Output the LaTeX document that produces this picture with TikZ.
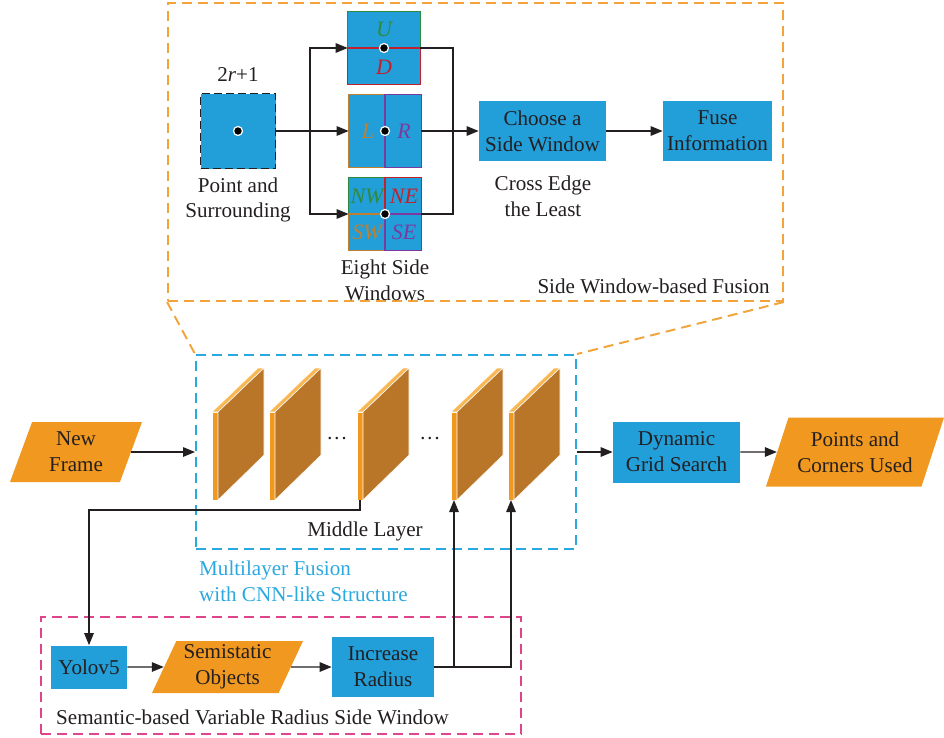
\documentclass[tikz,border=0pt]{standalone}
\usepackage{fontspec}
\setmainfont{Liberation Serif}
\usepackage{xcolor}
\usepackage{tikz}
\usetikzlibrary{positioning,arrows.meta,shapes.geometric}
\definecolor{ink}{HTML}{231F20}
\definecolor{swblue}{HTML}{229ED9}
\definecolor{sworange}{HTML}{F0981F}
\definecolor{slabface}{HTML}{B97629}
\definecolor{slabtop}{HTML}{F8B752}
\definecolor{framor}{HTML}{F2A43A}
\definecolor{frambl}{HTML}{2BA8E0}
\definecolor{frampk}{HTML}{E0448A}
\definecolor{wgreen}{HTML}{2E8A3E}
\definecolor{wred}{HTML}{C3202E}
\definecolor{wbrown}{HTML}{C0802F}
\definecolor{wpurple}{HTML}{7D3A9E}

\begin{document}
\begin{tikzpicture}[x=0.2mm,y=-0.2mm,
  font=\fontsize{12}{14.7}\selectfont,
  blk/.style={fill=swblue,align=center,inner sep=1pt,text=ink},
  para/.style={trapezium,trapezium left angle=63,trapezium right angle=117,
    trapezium stretches body,fill=sworange,align=center,inner sep=1pt,text=ink},
  win/.style={fill=swblue,minimum size=14.4mm,inner sep=0pt},
  dot/.style={circle,fill=black,draw=white,line width=0.7pt,minimum size=1.8mm,inner sep=0pt},
  lbl/.style={align=center,text=ink},
  wl/.style={font=\fontsize{12.5}{14}\selectfont\itshape},
  link/.style={draw=ink,line width=0.8pt},
  arr/.style={link,-{Triangle[length=2.4mm,width=1.9mm]}},
  frame/.style={dash pattern=on 2mm off 1.2mm,line width=1.1pt,inner sep=0pt}]
  \useasboundingbox (0,0) rectangle (944,737);
  % the three frames
  \node[frame,draw=framor,minimum width=123mm,minimum height=59.6mm] (swf) at (475.5,152) {};
  \node[frame,draw=frambl,minimum width=76mm,minimum height=38.8mm] (mid) at (386,452) {};
  \node[frame,draw=frampk,minimum width=96mm,minimum height=23.4mm] (sem) at (281,675.5) {};
  \draw[frame,draw=framor] (swf.south west) -- (mid.north west);
  \draw[frame,draw=framor] (swf.south east) -- (mid.north east);
  \node[lbl,anchor=base east] at (776,293) {Side Window-based Fusion};
  \node[lbl,text=frambl,align=left,anchor=west] at (193,581) {Multilayer Fusion\\with CNN-like Structure};
  \node[lbl,anchor=base west] at (50,724) {Semantic-based Variable Radius Side Window};
  % side window fusion
  \node[fill=swblue,draw=ink,dash pattern=on 1.6mm off 0.8mm,line width=0.8pt,
    minimum size=15mm,inner sep=0pt] (sq) at (238,131) {};
  \node[dot] at (sq.center) {};
  \node[lbl] at (238,75) {2\textit{r}+1};
  \node[lbl] at (238,200) {Point and\\Surrounding};
  \node[win] (w1) at (384,48) {};
  \draw[wgreen,line width=0.8pt] (w1.north west) rectangle (w1.east);
  \draw[wred,line width=0.8pt] (w1.west) rectangle (w1.south east);
  \node[dot] at (w1.center) {};
  \node[wl,text=wgreen] at (384,29) {U};
  \node[wl,text=wred] at (384,67) {D};
  \node[win] (w2) at (385,131) {};
  \draw[wbrown,line width=0.8pt] (w2.north west) rectangle (w2.south);
  \draw[wpurple,line width=0.8pt] (w2.north) rectangle (w2.south east);
  \node[dot] at (w2.center) {};
  \node[wl,text=wbrown] at (368,131) {L};
  \node[wl,text=wpurple] at (404,131) {R};
  \node[win] (w3) at (385,214) {};
  \draw[wgreen,line width=0.8pt] (w3.north west) rectangle (w3.center);
  \draw[wred,line width=0.8pt] (w3.north) rectangle (w3.east);
  \draw[wbrown,line width=0.8pt] (w3.west) rectangle (w3.south);
  \draw[wpurple,line width=0.8pt] (w3.center) rectangle (w3.south east);
  \node[dot] at (w3.center) {};
  \node[wl,text=wgreen] at (367,196) {NW};
  \node[wl,text=wred] at (404,196) {NE};
  \node[wl,text=wbrown] at (367,232) {SW};
  \node[wl,text=wpurple] at (404,232) {SE};
  \node[lbl] at (385,280) {Eight Side\\Windows};
  \node[blk,minimum width=25.4mm,minimum height=12mm] (cho) at (542.5,131) {Choose a\\Side Window};
  \node[lbl] at (543,196) {Cross Edge\\the Least};
  \node[blk,minimum width=21.8mm,minimum height=12mm] (fuse) at (717.5,131) {Fuse\\Information};
  \coordinate (br) at (310,131);
  \coordinate (mg) at (453,131);
  \draw[link] (sq.east) -- (br);
  \draw[arr] (br) |- (w1.west);
  \draw[arr] (br) -- (w2.west);
  \draw[arr] (br) |- (w3.west);
  \draw[link] (w1.east) -| (mg);
  \draw[link] (w3.east) -| (mg);
  \draw[arr] (w2.east) -- (cho.west);
  \draw[arr] (cho.east) -- (fuse.west);
  % middle layers
  \foreach \x/\n in {212/l1,269/l2,357/l3,451/l4,508/l5} {
    \filldraw[fill=sworange,draw=white,line width=0.3pt] (\x,412) rectangle ++(6,88);
    \filldraw[fill=slabtop,draw=white,line width=0.3pt] (\x,412) -- ++(6,0) -- ++(46,-44) -- ++(-6,0) -- cycle;
    \filldraw[fill=slabface,draw=white,line width=0.3pt] (\x+6,412) -- ++(46,-44) -- ++(0,87) -- ++(-46,45) -- cycle;
    \coordinate (\n) at (\x+3,500);
  }
  \node[lbl] at (337,441) {\textperiodcentered\textperiodcentered\textperiodcentered};
  \node[lbl] at (430,441) {\textperiodcentered\textperiodcentered\textperiodcentered};
  \node[lbl] at (365,531) {Middle Layer};
  \node[para,minimum width=26.4mm,minimum height=12mm] (nf) at (76,452) {New\\Frame};
  \node[blk,minimum width=25.4mm,minimum height=12.2mm] (dgs) at (676.5,452) {Dynamic\\Grid Search};
  \node[para,minimum width=35.6mm,minimum height=13.8mm] (pts) at (855,452) {Points and\\Corners Used};
  \draw[arr] (nf.east) -- (nf.east -| mid.west);
  \draw[arr] (mid.east) -- (dgs.west);
  \draw[arr] (dgs.east) -- (pts.west);
  % semantic radius
  \node[blk,minimum width=15.2mm,minimum height=8.6mm] (yolo) at (89,667) {Yolov5};
  \node[para,minimum width=30.2mm,minimum height=10.4mm] (semi) at (227.5,667) {Semistatic\\Objects};
  \node[blk,minimum width=20.4mm,minimum height=12mm] (inc) at (383,667) {Increase\\Radius};
  \draw[arr] (l3) -- ++(0,10) -| (yolo.north);
  \draw[arr] (yolo.east) -- (semi.west);
  \draw[arr] (semi.east) -- (inc.west);
  \draw[arr] (inc.east) -| (l4);
  \draw[arr] (inc.east) -| (l5);
\end{tikzpicture}
\end{document}
